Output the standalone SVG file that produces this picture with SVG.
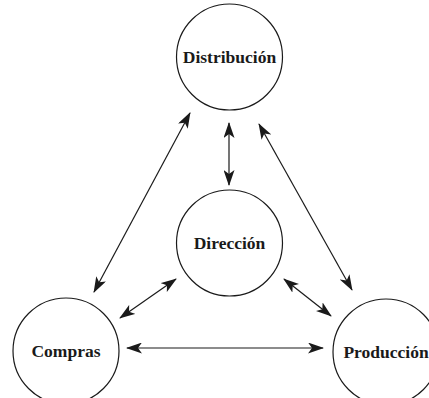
<svg xmlns="http://www.w3.org/2000/svg" width="429" height="398" viewBox="0 0 429 398">
  <style>
    .node circle { fill: #fff; stroke: #1a1a1a; stroke-width: 1.2; }
    .node text { font-family: "Liberation Serif", "DejaVu Serif", serif; font-weight: bold; font-size: 17.5px; fill: #1a1a1a; text-anchor: middle; dominant-baseline: central; }
    .edge { stroke: #1a1a1a; stroke-width: 1.2; fill: none; marker-start: url(#head); marker-end: url(#head); }
  </style>
  <defs>
    <marker id="head" viewBox="0 0 16 11" refX="15" refY="5.5" markerWidth="16" markerHeight="11" markerUnits="userSpaceOnUse" orient="auto-start-reverse">
      <path d="M0,0 L16,5.5 L0,11 L4,5.5 Z" fill="#1a1a1a"/>
    </marker>
  </defs>
  <rect width="429" height="398" fill="#fff"/>
  <g id="connectors">
    <line class="edge" x1="229" y1="123" x2="229" y2="185"/>
    <line class="edge" x1="190" y1="113" x2="94" y2="292"/>
    <line class="edge" x1="259" y1="124" x2="352" y2="290"/>
    <line class="edge" x1="176" y1="279" x2="120" y2="318"/>
    <line class="edge" x1="284" y1="279" x2="331" y2="316"/>
    <line class="edge" x1="127" y1="348" x2="323" y2="348"/>
  </g>
  <g id="distribucion" class="node">
    <circle cx="229.5" cy="57" r="53"/>
    <text x="229.5" y="57">Distribución</text>
  </g>
  <g id="direccion" class="node">
    <circle cx="229.5" cy="243" r="53"/>
    <text x="229.5" y="243">Dirección</text>
  </g>
  <g id="compras" class="node">
    <circle cx="66" cy="351" r="53"/>
    <text x="66" y="351">Compras</text>
  </g>
  <g id="produccion" class="node">
    <circle cx="386" cy="352" r="53"/>
    <text x="386" y="352">Producción</text>
  </g>
</svg>
